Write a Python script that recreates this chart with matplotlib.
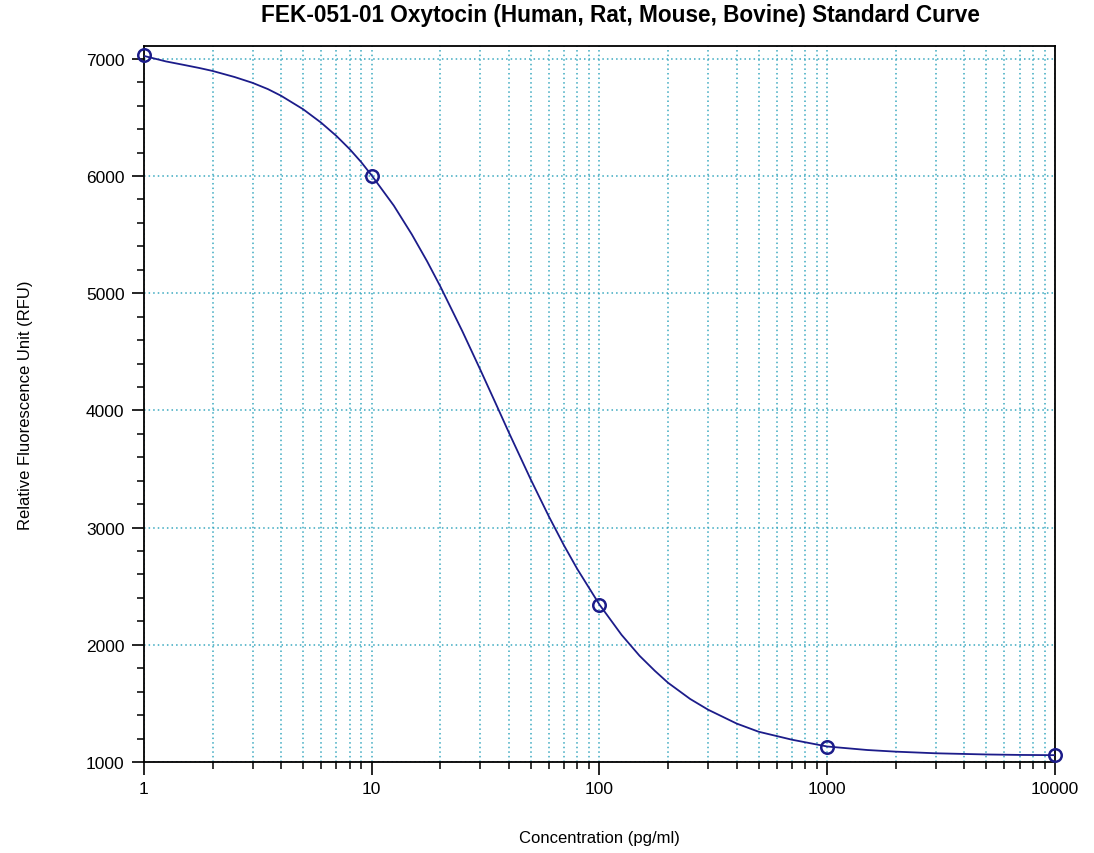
import matplotlib
matplotlib.use("Agg")
import matplotlib.pyplot as plt
from matplotlib.ticker import LogLocator, MultipleLocator, FixedLocator, NullFormatter

plt.rcParams["font.family"] = ["Liberation Sans", "DejaVu Sans"]

# ── Standard points ──
conc = [1, 10, 100, 1000, 10000]
rfu = [7030, 6000, 2340, 1130, 1060]

# ── Fitted curve ──
curve_conc = [1, 1.25, 1.5, 1.75, 2, 2.5, 3, 3.5, 4, 5, 6, 7, 8, 9, 10, 12.5, 15,
              17.5, 20, 25, 30, 35, 40, 50, 60, 70, 80, 100, 125, 150, 175, 200,
              250, 300, 400, 500, 700, 1000, 1500, 2000, 3000, 5000, 7000, 10000]
curve_rfu = [7025, 6978, 6948, 6922, 6897, 6845, 6795, 6742, 6685, 6570, 6455,
             6342, 6230, 6118, 6005, 5748, 5502, 5273, 5059, 4676, 4346, 4061,
             3812, 3408, 3094, 2845, 2645, 2343, 2085, 1906, 1778, 1676, 1538,
             1446, 1328, 1258, 1190, 1132, 1102, 1088, 1074, 1064, 1060, 1058]

title = "FEK-051-01 Oxytocin (Human, Rat, Mouse, Bovine) Standard Curve"
x_ticks = [1, 10, 100, 1000, 10000]
x_tick_labels = ["1", "10", "100", "1000", "10000"]
y_ticks = [1000, 2000, 3000, 4000, 5000, 6000, 7000]

navy = "#1c1c8a"
grid_color = "#3aa9c0"

fig = plt.figure(figsize=(10.94, 8.54), dpi=100)
ax = fig.add_axes([0.1316, 0.1066, 0.8327, 0.8384])

ax.set_xscale("log")
ax.set_xlim(1, 10000)
ax.set_ylim(1000, 7110)

ax.plot(curve_conc, curve_rfu, color=navy, linewidth=1.3, zorder=3)
ax.plot(conc, rfu, linestyle="none", marker="o", markersize=9,
        markerfacecolor="none", markeredgecolor=navy, markeredgewidth=1.8,
        clip_on=False, zorder=4)

ax.xaxis.set_major_locator(FixedLocator(x_ticks))
ax.set_xticklabels(x_tick_labels)
ax.xaxis.set_minor_locator(LogLocator(base=10, subs=range(2, 10)))
ax.xaxis.set_minor_formatter(NullFormatter())
ax.yaxis.set_major_locator(FixedLocator(y_ticks))
ax.yaxis.set_minor_locator(MultipleLocator(200))

ax.grid(True, which="major", axis="both", color=grid_color,
        linestyle=(0, (1, 2)), linewidth=1.1)
ax.grid(True, which="minor", axis="x", color=grid_color,
        linestyle=(0, (1, 2)), linewidth=1.1)
ax.set_axisbelow(True)

ax.tick_params(which="major", direction="out", length=9, width=1.2,
               labelsize=12.5, pad=5)
ax.tick_params(which="minor", direction="out", length=5, width=1.1)
for s in ax.spines.values():
    s.set_linewidth(1.3)
    s.set_color("black")

ax.set_xlabel("Concentration (pg/ml)", fontsize=12, labelpad=24)
ax.set_ylabel("Relative Fluorescence Unit (RFU)", fontsize=12, labelpad=38)
fig.text(0.567, 0.982, title, fontsize=16.3, fontweight="bold",
         ha="center", va="center")

fig.savefig("out.png", dpi=100, facecolor="white")
